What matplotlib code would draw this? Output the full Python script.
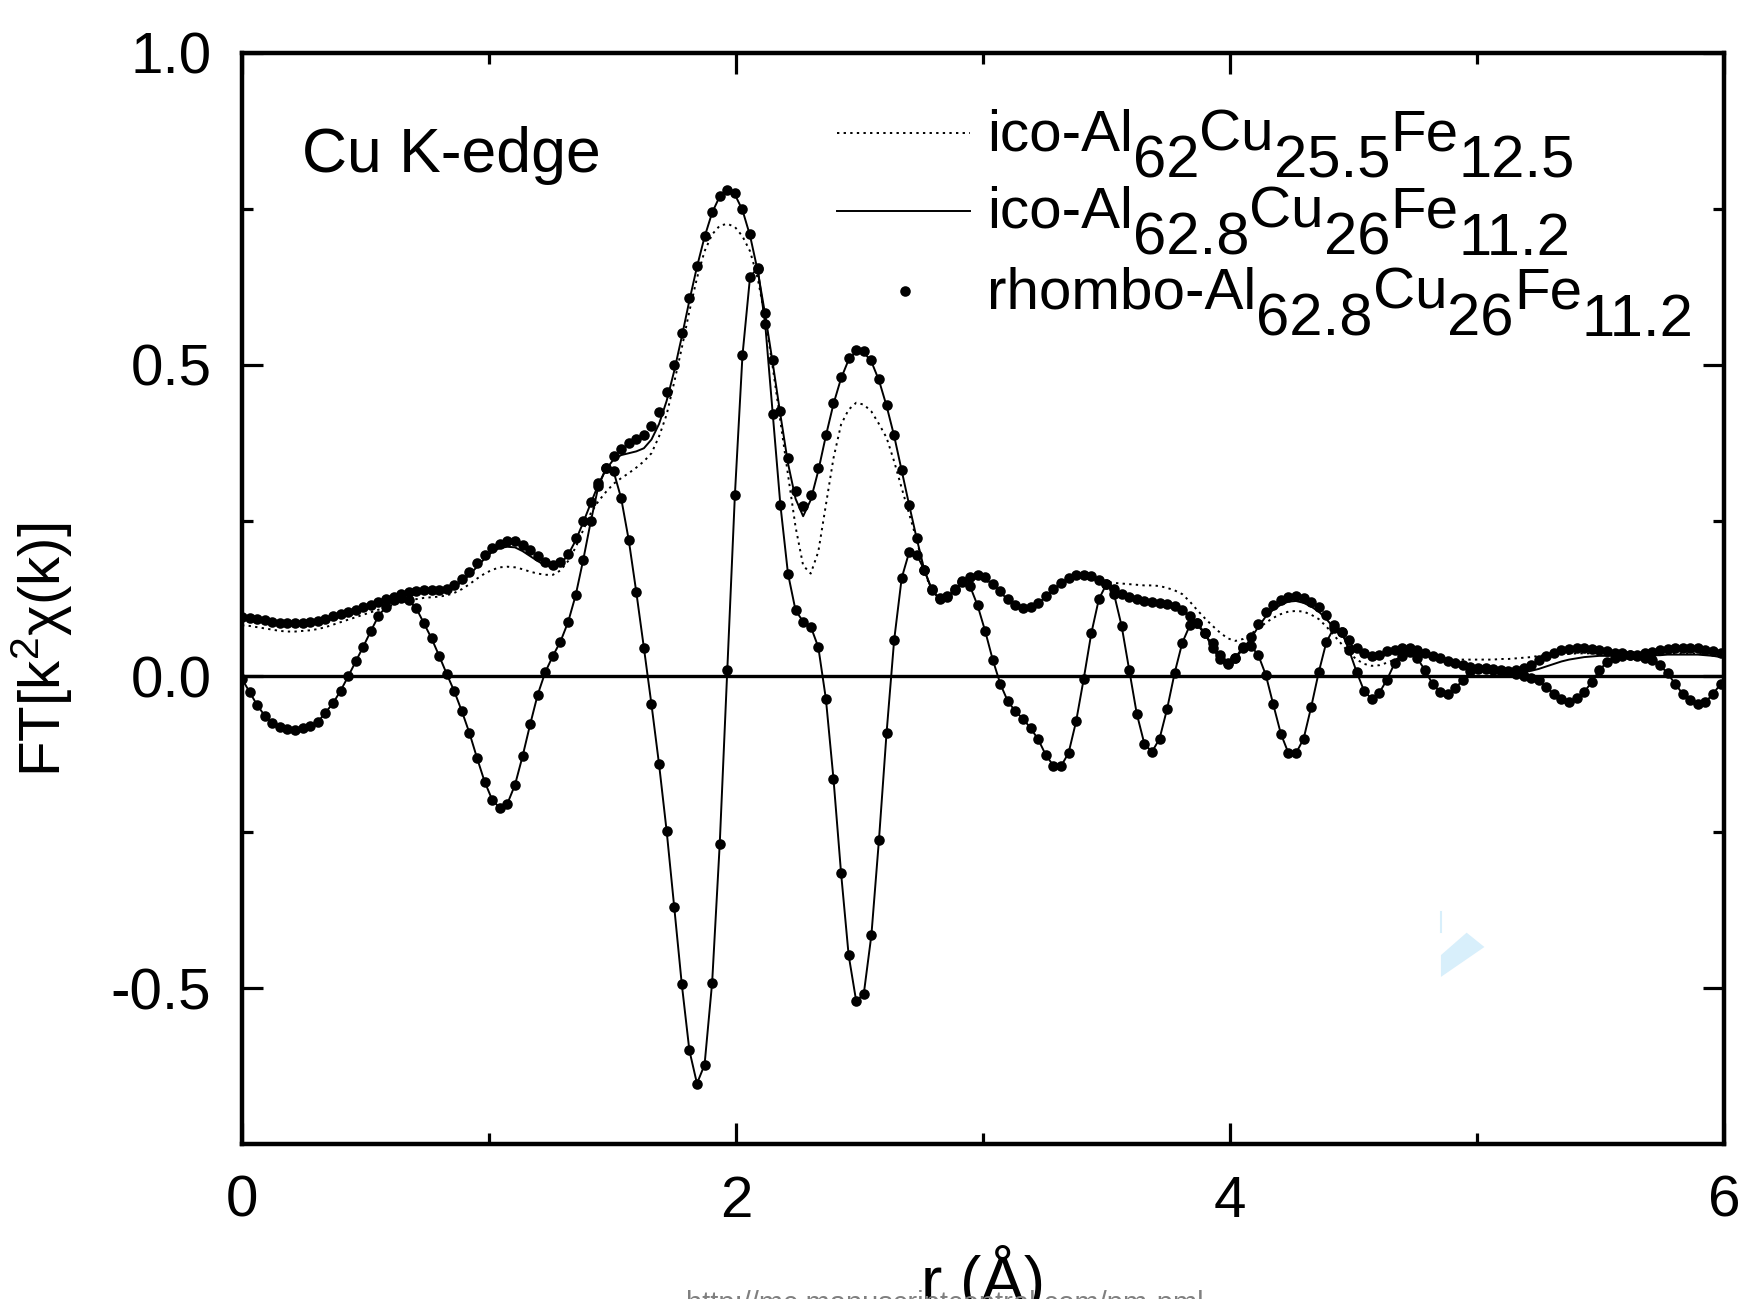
import numpy as np
import matplotlib
matplotlib.use("Agg")
import matplotlib.pyplot as plt
from matplotlib.patches import Polygon
from matplotlib.transforms import offset_copy

plt.rcParams['font.family'] = ['Liberation Sans', 'DejaVu Sans']
plt.rcParams['mathtext.fontset'] = 'custom'
plt.rcParams['mathtext.rm'] = 'Liberation Sans'
plt.rcParams['mathtext.it'] = 'Liberation Sans:italic'
plt.rcParams['mathtext.default'] = 'regular'
plt.rcParams['axes.unicode_minus'] = False

# ---------------- data ----------------
DR = 0.0307                      # r-grid step of the Fourier transform (Å)
N_PTS = 196
r = np.arange(N_PTS) * DR

# rhombo-Al62.8Cu26Fe11.2 : magnitude (dots)
rhombo_mag = [
    0.095, 0.094, 0.092, 0.090, 0.088, 0.086, 0.085, 0.085, 0.086, 0.087,
    0.089, 0.092, 0.097, 0.100, 0.103, 0.107, 0.111, 0.115, 0.119, 0.124,
    0.128, 0.132, 0.135, 0.137, 0.138, 0.138, 0.138, 0.140, 0.146, 0.156,
    0.168, 0.182, 0.195, 0.206, 0.213, 0.217, 0.217, 0.211, 0.203, 0.193,
    0.184, 0.179, 0.183, 0.197, 0.222, 0.249, 0.280, 0.310, 0.334, 0.353,
    0.365, 0.374, 0.381, 0.388, 0.401, 0.424, 0.456, 0.500, 0.551, 0.607,
    0.659, 0.707, 0.745, 0.771, 0.780, 0.775, 0.749, 0.709, 0.653, 0.583,
    0.507, 0.426, 0.351, 0.297, 0.273, 0.291, 0.334, 0.388, 0.439, 0.480,
    0.510, 0.523, 0.522, 0.507, 0.477, 0.436, 0.388, 0.331, 0.275, 0.222,
    0.171, 0.140, 0.126, 0.129, 0.141, 0.153, 0.160, 0.163, 0.159, 0.149,
    0.137, 0.125, 0.114, 0.109, 0.112, 0.118, 0.129, 0.141, 0.150, 0.158,
    0.163, 0.163, 0.161, 0.155, 0.148, 0.140, 0.133, 0.127, 0.124, 0.121,
    0.119, 0.118, 0.116, 0.113, 0.106, 0.097, 0.085, 0.069, 0.054, 0.035,
    0.022, 0.030, 0.046, 0.063, 0.084, 0.103, 0.114, 0.122, 0.128, 0.129,
    0.126, 0.120, 0.112, 0.098, 0.083, 0.071, 0.058, 0.045, 0.037, 0.033,
    0.035, 0.040, 0.043, 0.045, 0.045, 0.043, 0.038, 0.033, 0.030, 0.025,
    0.021, 0.018, 0.015, 0.014, 0.013, 0.012, 0.010, 0.008, 0.010, 0.013,
    0.018, 0.026, 0.033, 0.038, 0.042, 0.044, 0.045, 0.045, 0.044, 0.042,
    0.040, 0.038, 0.037, 0.035, 0.035, 0.037, 0.039, 0.042, 0.044, 0.045,
    0.046, 0.046, 0.045, 0.043, 0.040, 0.037,
]

# imaginary part (dots joined by the solid line)
rhombo_im = [
    -0.004, -0.025, -0.046, -0.063, -0.074, -0.081, -0.085, -0.086, -0.083, -0.080,
    -0.073, -0.058, -0.043, -0.023, 0.000, 0.024, 0.048, 0.073, 0.097, 0.112,
    0.123, 0.126, 0.122, 0.109, 0.085, 0.061, 0.033, 0.004, -0.024, -0.056,
    -0.091, -0.131, -0.169, -0.198, -0.211, -0.204, -0.174, -0.128, -0.077, -0.029,
    0.007, 0.033, 0.056, 0.087, 0.130, 0.187, 0.249, 0.305, 0.334, 0.329,
    0.286, 0.219, 0.135, 0.046, -0.045, -0.141, -0.248, -0.370, -0.494, -0.600,
    -0.653, -0.623, -0.491, -0.269, 0.010, 0.291, 0.515, 0.641, 0.655, 0.565,
    0.421, 0.275, 0.165, 0.106, 0.088, 0.080, 0.047, -0.036, -0.164, -0.315,
    -0.447, -0.521, -0.509, -0.415, -0.262, -0.091, 0.058, 0.158, 0.200, 0.195,
    0.170, 0.138, 0.124, 0.127, 0.139, 0.151, 0.145, 0.114, 0.073, 0.027,
    -0.012, -0.040, -0.056, -0.068, -0.083, -0.101, -0.126, -0.143, -0.144, -0.123,
    -0.072, -0.004, 0.069, 0.124, 0.148, 0.132, 0.081, 0.010, -0.060, -0.108,
    -0.121, -0.100, -0.052, 0.006, 0.054, 0.082, 0.085, 0.069, 0.045, 0.028,
    0.020, 0.030, 0.047, 0.049, 0.035, 0.003, -0.045, -0.092, -0.123, -0.123,
    -0.100, -0.049, 0.007, 0.055, 0.078, 0.072, 0.042, 0.007, -0.024, -0.036,
    -0.026, -0.005, 0.021, 0.033, 0.039, 0.029, 0.010, -0.012, -0.025, -0.028,
    -0.019, -0.006, 0.008, 0.012, 0.012, 0.011, 0.009, 0.007, 0.004, 0.001,
    -0.003, -0.006, -0.017, -0.028, -0.037, -0.041, -0.035, -0.025, -0.009, 0.010,
    0.023, 0.030, 0.033, 0.034, 0.033, 0.030, 0.026, 0.018, 0.005, -0.012,
    -0.028, -0.038, -0.045, -0.041, -0.028, -0.012,
]

# ico-Al62.8Cu26Fe11.2 : magnitude (solid line)
ico628_mag = [
    0.092, 0.091, 0.089, 0.087, 0.085, 0.083, 0.082, 0.082, 0.083, 0.084,
    0.086, 0.089, 0.093, 0.097, 0.100, 0.104, 0.108, 0.112, 0.117, 0.122,
    0.126, 0.130, 0.133, 0.135, 0.136, 0.136, 0.136, 0.138, 0.143, 0.152,
    0.163, 0.176, 0.189, 0.200, 0.206, 0.208, 0.207, 0.201, 0.193, 0.185,
    0.178, 0.175, 0.180, 0.195, 0.218, 0.247, 0.278, 0.308, 0.332, 0.348,
    0.355, 0.358, 0.361, 0.366, 0.380, 0.405, 0.442, 0.490, 0.545, 0.603,
    0.657, 0.705, 0.744, 0.770, 0.779, 0.773, 0.748, 0.707, 0.651, 0.580,
    0.502, 0.420, 0.342, 0.285, 0.257, 0.283, 0.330, 0.386, 0.437, 0.478,
    0.508, 0.521, 0.520, 0.505, 0.475, 0.434, 0.386, 0.330, 0.274, 0.220,
    0.170, 0.138, 0.124, 0.127, 0.139, 0.151, 0.158, 0.161, 0.157, 0.147,
    0.135, 0.123, 0.112, 0.107, 0.110, 0.117, 0.128, 0.140, 0.149, 0.157,
    0.162, 0.162, 0.160, 0.154, 0.147, 0.139, 0.132, 0.126, 0.123, 0.120,
    0.118, 0.117, 0.115, 0.112, 0.105, 0.096, 0.083, 0.067, 0.051, 0.033,
    0.022, 0.029, 0.044, 0.060, 0.079, 0.096, 0.107, 0.115, 0.120, 0.121,
    0.118, 0.112, 0.104, 0.092, 0.078, 0.066, 0.054, 0.042, 0.034, 0.030,
    0.031, 0.035, 0.039, 0.041, 0.041, 0.039, 0.035, 0.031, 0.027, 0.023,
    0.019, 0.016, 0.013, 0.011, 0.009, 0.008, 0.007, 0.006, 0.006, 0.007,
    0.009, 0.012, 0.016, 0.020, 0.024, 0.027, 0.029, 0.031, 0.032, 0.033,
    0.033, 0.033, 0.033, 0.033, 0.033, 0.033, 0.034, 0.034, 0.035, 0.035,
    0.035, 0.035, 0.035, 0.034, 0.033, 0.031,
]

# ico-Al62Cu25.5Fe12.5 : magnitude (dotted line)
ico62_mag = [
    0.082, 0.081, 0.079, 0.077, 0.075, 0.073, 0.072, 0.072, 0.073, 0.074,
    0.076, 0.079, 0.083, 0.087, 0.091, 0.095, 0.099, 0.103, 0.107, 0.111,
    0.115, 0.119, 0.122, 0.124, 0.126, 0.127, 0.128, 0.130, 0.134, 0.140,
    0.148, 0.157, 0.165, 0.171, 0.175, 0.176, 0.175, 0.172, 0.168, 0.165,
    0.163, 0.163, 0.170, 0.185, 0.207, 0.235, 0.262, 0.281, 0.296, 0.309,
    0.318, 0.326, 0.335, 0.345, 0.358, 0.385, 0.420, 0.472, 0.527, 0.586,
    0.639, 0.682, 0.709, 0.723, 0.726, 0.721, 0.706, 0.682, 0.639, 0.575,
    0.495, 0.409, 0.324, 0.240, 0.178, 0.165, 0.200, 0.275, 0.350, 0.404,
    0.428, 0.439, 0.436, 0.425, 0.405, 0.383, 0.345, 0.302, 0.260, 0.218,
    0.168, 0.136, 0.122, 0.124, 0.135, 0.147, 0.155, 0.158, 0.155, 0.146,
    0.134, 0.122, 0.112, 0.107, 0.109, 0.116, 0.126, 0.138, 0.148, 0.156,
    0.161, 0.162, 0.160, 0.156, 0.152, 0.150, 0.149, 0.148, 0.147, 0.146,
    0.146, 0.145, 0.142, 0.138, 0.132, 0.120, 0.106, 0.093, 0.081, 0.070,
    0.061, 0.057, 0.060, 0.068, 0.076, 0.086, 0.094, 0.100, 0.104, 0.105,
    0.104, 0.099, 0.092, 0.080, 0.066, 0.052, 0.038, 0.027, 0.020, 0.017,
    0.018, 0.022, 0.027, 0.031, 0.033, 0.033, 0.032, 0.030, 0.029, 0.028,
    0.027, 0.027, 0.027, 0.027, 0.027, 0.027, 0.028, 0.028, 0.029, 0.030,
    0.031, 0.033, 0.034, 0.035, 0.036, 0.036, 0.037, 0.037, 0.037, 0.037,
    0.037, 0.037, 0.036, 0.035, 0.035, 0.035, 0.035, 0.036, 0.036, 0.037,
    0.037, 0.037, 0.037, 0.036, 0.035, 0.033,
]

# legend labels as (text, is_subscript) pieces
legend_parts = [
    [('ico-Al', False), ('62', True), ('Cu', False), ('25.5', True), ('Fe', False), ('12.5', True)],
    [('ico-Al', False), ('62.8', True), ('Cu', False), ('26', True), ('Fe', False), ('11.2', True)],
    [('rhombo-Al', False), ('62.8', True), ('Cu', False), ('26', True), ('Fe', False), ('11.2', True)],
]
x_ticks = [0, 2, 4, 6]
x_minor = [1, 3, 5]
y_ticks = [-0.5, 0.0, 0.5, 1.0]
y_minor = [-0.25, 0.25, 0.75]

# ---------------- figure ----------------
W, H = 1742, 1299
fig = plt.figure(figsize=(W / 100, H / 100), dpi=100)
ax = fig.add_axes([242 / W, (H - 1144) / H, 1482 / W, 1091 / H])

FS = 42
MS = 7.6
DOT_LS = (0, (1.2, 2.2))
ax.plot(r, ico62_mag, color='k', lw=1.4, ls=DOT_LS, zorder=3)
ax.plot(r, ico628_mag, color='k', lw=1.4, ls='-', zorder=3)
ax.plot(r, rhombo_im, color='k', lw=1.4, ls='-', zorder=3)
ax.plot(r, rhombo_mag, ls='none', marker='o', ms=MS, mfc='k', mec='k', mew=0, zorder=4)
ax.plot(r, rhombo_im, ls='none', marker='o', ms=MS, mfc='k', mec='k', mew=0, zorder=4)
ax.axhline(0, color='k', lw=2.4, zorder=2)

ax.set_xlim(0, 6)
ax.set_ylim(-0.75, 1.0)
ax.set_xticks(x_ticks)
ax.set_xticks(x_minor, minor=True)
ax.set_yticks(y_ticks)
ax.set_yticks(y_minor, minor=True)
ax.set_xticklabels([str(t) for t in x_ticks])
ax.set_yticklabels(['%.1f' % t for t in y_ticks])
ax.tick_params(which='both', direction='in', top=True, right=True, width=2.3,
               labelsize=FS)
ax.tick_params(which='major', length=15, pad=22)
ax.tick_params(which='minor', length=8)
for s in ax.spines.values():
    s.set_linewidth(3.2)

ax.set_ylabel('FT[k$^{2}$χ(k)]', fontsize=FS)
ax.yaxis.set_label_coords(-0.113, 0.453)

fig.text(983 / W, -0.002, 'r (Å)', fontsize=46, ha='center', va='baseline')
fig.text(945 / W, -0.010, 'http://mc.manuscriptcentral.com/pm-pml', fontsize=21,
         color='#808080', ha='center', va='baseline')

ax.text(0.0405, 0.891, 'Cu K-edge', transform=ax.transAxes, fontsize=45,
        ha='left', va='baseline')

# legend built by hand (Origin style: full-size, lowered subscripts)
rows_y = [0.9267, 0.855, 0.7819]
base_y = [0.911, 0.8396, 0.7654]
ax.plot([0.4015, 0.4912], [rows_y[0]] * 2, transform=ax.transAxes, color='k',
        lw=1.4, ls=DOT_LS, clip_on=False)
ax.plot([0.4015, 0.4912], [rows_y[1]] * 2, transform=ax.transAxes, color='k',
        lw=1.4, clip_on=False)
ax.plot([0.4477], [rows_y[2]], transform=ax.transAxes, ls='none', marker='o',
        ms=MS, mfc='k', mew=0, clip_on=False)

renderer = fig.canvas.get_renderer()
SUB_DROP = 27   # pixels
for parts, yb in zip(legend_parts, base_y):
    dx = 0.0
    for txt, sub in parts:
        tr = offset_copy(ax.transAxes, fig=fig, x=dx, y=(-SUB_DROP if sub else 0),
                         units='dots')
        t = ax.text(0.5027, yb, txt, transform=tr, fontsize=(43 if sub else FS),
                    ha='left', va='baseline')
        dx += t.get_window_extent(renderer).width

# faint light-blue scan artefact
ax.add_patch(Polygon([(4.854, -0.447), (4.958, -0.411), (5.03, -0.434), (4.854, -0.482)],
                     closed=True, facecolor='#d8effb', edgecolor='none', zorder=1))
ax.plot([4.854, 4.854], [-0.378, -0.41], color='#d8effb', lw=1.5, zorder=1)

fig.savefig('out.png', dpi=100)
